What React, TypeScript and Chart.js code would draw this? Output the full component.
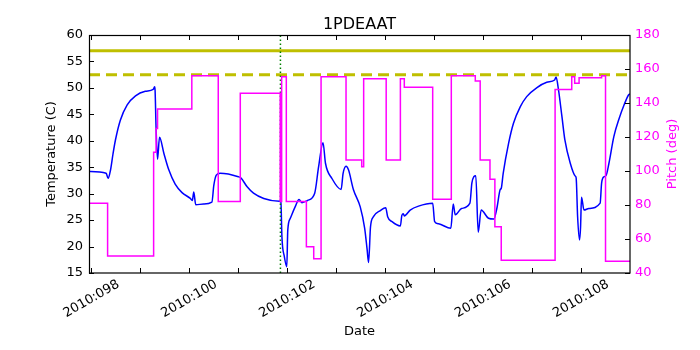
import React, { useEffect, useRef } from "react";
import { Chart, registerables } from "chart.js";

Chart.register(...registerables);

const TITLE = "1PDEAAT";
const X_TITLE = "Date";
const Y_TITLE = "Temperature (C)";
const Y2_TITLE = "Pitch (deg)";
const YEAR = "2010";

const X_MIN = 97.95;
const X_MAX = 109.0;
const X_TICK_DAYS = [98, 99, 100, 101, 102, 103, 104, 105, 106, 107, 108];
const X_LABEL_DAYS = [98, 100, 102, 104, 106, 108];

const TEMP_MIN = 15;
const TEMP_MAX = 60;
const TEMP_STEP = 5;
const PITCH_MIN = 40;
const PITCH_MAX = 180;
const PITCH_STEP = 20;

const PLANNING_LIMIT = 57;
const CAUTION_LIMIT = 52.5;
const NOW_DAY = 101.86;

const tempDays = [
  97.94, 98.3, 98.34, 98.39, 98.44, 98.49, 98.59, 98.73, 98.9, 99.1, 99.26, 99.29, 99.3, 99.32, 99.35,
  99.39, 99.48, 99.58, 99.71, 99.85, 100.02, 100.06, 100.09, 100.13, 100.29, 100.46, 100.5, 100.55,
  100.63, 101.0, 101.05, 101.18, 101.31, 101.52, 101.84, 101.87, 101.89, 101.94, 101.99, 102.01,
  102.06, 102.16, 102.24, 102.3, 102.41, 102.56, 102.64, 102.73, 102.78, 102.91, 103.1, 103.14,
  103.2, 103.25, 103.35, 103.49, 103.58, 103.63, 103.66, 103.7, 103.76, 103.9, 104.01, 104.05,
  104.14, 104.31, 104.34, 104.37, 104.39, 104.51, 104.68, 104.97, 105.01, 105.09, 105.34, 105.39,
  105.43, 105.56, 105.73, 105.77, 105.81, 105.85, 105.9, 105.96, 106.11, 106.22, 106.28, 106.35,
  106.37, 106.41, 106.52, 106.62, 106.76, 106.89, 107.1, 107.3, 107.46, 107.49, 107.54, 107.61,
  107.67, 107.78, 107.88, 107.9, 107.93, 107.97, 107.99, 108.01, 108.06, 108.16, 108.39, 108.42,
  108.47, 108.51, 108.57, 108.67, 108.78, 108.88, 108.97, 109.0,
];
const tempValues = [
  34.2, 33.85, 32.9, 34.5, 37.5, 40.15, 43.9, 46.8, 48.5, 49.35, 49.7, 50.2, 49.5, 42.4, 36.5,
  40.65, 37.6, 34.5, 31.8, 30.2, 29.1, 28.7, 30.3, 27.9, 28.05, 28.4, 31.6, 33.5,
  33.85, 33.2, 33.0, 31.3, 30.1, 29.1, 28.55, 28.4, 21.9, 18.1, 16.2, 23.1,
  25.3, 27.5, 28.9, 28.3, 28.7, 30.1, 35.1, 39.65, 35.75, 32.9, 30.8, 33.85,
  35.2, 34.5, 30.8, 27.5, 23.5, 19.5, 17.0, 23.75, 25.65, 26.8, 27.35, 25.65,
  24.7, 23.9, 25.9, 26.2, 25.8, 26.9, 27.65, 28.2, 24.7, 24.3, 23.45, 28.05,
  26.0, 27.2, 28.2, 32.0, 33.2, 33.4, 22.7, 26.9, 25.35, 25.2, 27.2, 30.8,
  31.0, 33.85, 39.5, 43.3, 46.45, 48.35, 50.05, 51.05, 51.5, 52.05, 49.6, 44.55,
  40.15, 35.75, 33.35, 33.0, 25.65, 21.25, 23.6, 29.3, 26.9, 27.2, 28.2, 32.0,
  33.2, 33.4, 35.75, 40.8, 44.25, 46.8, 48.65, 48.9,
];

const pitchChangeDays = [
  97.94, 98.33, 99.27, 99.32, 99.35, 100.05, 100.59, 101.04, 101.855, 101.885, 101.98, 102.39,
  102.54, 102.69, 103.2, 103.52, 103.56, 104.02, 104.31, 104.39, 104.97, 105.35, 105.84, 105.94,
  106.14, 106.24, 106.37, 107.47, 107.81, 107.87, 107.96, 108.42, 108.5,
];
const pitchValues = [
  81, 50, 111, 125, 136.5, 156, 82, 145.7, 82, 155.5, 82, 55.5,
  48.4, 155.5, 106.5, 102.5, 154.3, 106.5, 154.3, 149.2, 83.4, 156, 153, 106.5,
  95.1, 67.2, 47.5, 148, 155.5, 151.6, 154.9, 156.1, 46.9,
];
const PITCH_END_DAY = 109.0;

function buildTemp() {
  return tempDays.map((d, i) => ({ x: d, y: tempValues[i] }));
}

function buildPitch() {
  const pts: { x: number; y: number }[] = [];
  pitchChangeDays.forEach((d, i) => {
    if (i > 0) pts.push({ x: d, y: pitchValues[i - 1] });
    pts.push({ x: d, y: pitchValues[i] });
  });
  pts.push({ x: PITCH_END_DAY, y: pitchValues[pitchValues.length - 1] });
  return pts;
}

const FONT = '"DejaVu Sans", "Liberation Sans", sans-serif';
const MAGENTA = "#ff00ff";

const mplDecor = {
  id: "mplDecor",
  afterDraw(chart: any) {
    const { ctx, chartArea } = chart;
    const { left, right, top, bottom } = chartArea;
    const xs = chart.scales.x;
    const ys = chart.scales.y;
    const y2 = chart.scales.y2;
    const tl = 5;
    ctx.save();
    ctx.strokeStyle = "#000";
    ctx.lineWidth = 1;
    // ticks
    ctx.beginPath();
    X_TICK_DAYS.forEach((d) => {
      const px = Math.round(xs.getPixelForValue(d)) + 0.5;
      ctx.moveTo(px, bottom);
      ctx.lineTo(px, bottom - tl);
      ctx.moveTo(px, top);
      ctx.lineTo(px, top + tl);
    });
    ys.ticks.forEach((t: any) => {
      const py = Math.round(ys.getPixelForValue(t.value)) + 0.5;
      ctx.moveTo(left, py);
      ctx.lineTo(left + tl, py);
    });
    y2.ticks.forEach((t: any) => {
      const py = Math.round(y2.getPixelForValue(t.value)) + 0.5;
      ctx.moveTo(right, py);
      ctx.lineTo(right - tl, py);
    });
    ctx.stroke();
    // frame
    ctx.lineWidth = 1.2;
    ctx.strokeRect(left + 0.5, top + 0.5, right - left - 0.5, bottom - top - 0.5);

    // title
    ctx.fillStyle = "#000";
    ctx.textAlign = "center";
    ctx.textBaseline = "alphabetic";
    ctx.font = `16px ${FONT}`;
    ctx.fillText(TITLE, (left + right) / 2, 29);

    // x tick labels (rotated 30deg, centred on tick)
    ctx.font = `13px ${FONT}`;
    X_LABEL_DAYS.forEach((d) => {
      const px = xs.getPixelForValue(d);
      ctx.save();
      ctx.translate(px, bottom + 26);
      ctx.rotate(-Math.PI / 6);
      ctx.textAlign = "center";
      ctx.textBaseline = "middle";
      ctx.fillText(`${YEAR}:${String(d).padStart(3, "0")}`, 0, 0);
      ctx.restore();
    });

    // x title
    ctx.textAlign = "center";
    ctx.textBaseline = "alphabetic";
    ctx.fillText(X_TITLE, (left + right) / 2, bottom + 61.5);

    // y titles
    const mid = (top + bottom) / 2;
    ctx.save();
    ctx.translate(55, mid);
    ctx.rotate(-Math.PI / 2);
    ctx.fillText(Y_TITLE, 0, 0);
    ctx.restore();

    ctx.save();
    ctx.fillStyle = MAGENTA;
    ctx.translate(676, mid);
    ctx.rotate(-Math.PI / 2);
    ctx.fillText(Y2_TITLE, 0, 0);
    ctx.restore();

    ctx.restore();
  },
};

export default function App() {
  const ref = useRef<HTMLCanvasElement>(null);

  useEffect(() => {
    document.body.style.margin = "0";
    const canvas = ref.current;
    if (!canvas) return;
    const chart = new Chart(canvas, {
      type: "line",
      data: {
        datasets: [
          {
            label: "Pitch",
            data: buildPitch(),
            yAxisID: "y2",
            borderColor: MAGENTA,
            borderWidth: 1.5,
            pointRadius: 0,
            tension: 0,
            order: 0,
          },
          {
            label: "Now",
            data: [
              { x: NOW_DAY, y: TEMP_MIN },
              { x: NOW_DAY, y: TEMP_MAX },
            ],
            yAxisID: "y",
            borderColor: "#008000",
            borderWidth: 1.5,
            borderDash: [1.5, 2.5],
            pointRadius: 0,
            order: 1,
          },
          {
            label: "Planning limit",
            data: [
              { x: X_MIN, y: PLANNING_LIMIT },
              { x: X_MAX, y: PLANNING_LIMIT },
            ],
            yAxisID: "y",
            borderColor: "#bfbf00",
            borderWidth: 3,
            pointRadius: 0,
            order: 2,
          },
          {
            label: "Caution limit",
            data: [
              { x: X_MIN, y: CAUTION_LIMIT },
              { x: X_MAX, y: CAUTION_LIMIT },
            ],
            yAxisID: "y",
            borderColor: "#bfbf00",
            borderWidth: 3,
            borderDash: [11, 6],
            pointRadius: 0,
            order: 2,
          },
          {
            label: "Temperature",
            data: buildTemp(),
            yAxisID: "y",
            borderColor: "#0000ff",
            borderWidth: 1.5,
            pointRadius: 0,
            cubicInterpolationMode: "monotone",
            order: 3,
          },
        ],
      },
      options: {
        responsive: false,
        animation: false,
        events: [],
        layout: { padding: { top: 35, left: 0, right: 0, bottom: 0 } },
        plugins: {
          legend: { display: false },
          tooltip: { enabled: false },
          title: { display: false },
        },
        scales: {
          x: {
            type: "linear",
            min: X_MIN,
            max: X_MAX,
            grid: { display: false, drawTicks: false },
            border: { display: false },
            ticks: { display: false, stepSize: 1 },
            afterFit: (s: any) => {
              s.height = 77;
            },
          },
          y: {
            type: "linear",
            position: "left",
            min: TEMP_MIN,
            max: TEMP_MAX,
            grid: { display: false, drawTicks: false, tickLength: 0 },
            border: { display: false },
            ticks: {
              stepSize: TEMP_STEP,
              padding: 6,
              color: "#000",
              font: { family: FONT, size: 13 },
            },
            afterFit: (s: any) => {
              s.width = 89;
            },
          },
          y2: {
            type: "linear",
            position: "right",
            min: PITCH_MIN,
            max: PITCH_MAX,
            grid: { display: false, drawTicks: false, tickLength: 0 },
            border: { display: false },
            ticks: {
              stepSize: PITCH_STEP,
              padding: 5,
              color: MAGENTA,
              font: { family: FONT, size: 13 },
            },
            afterFit: (s: any) => {
              s.width = 70;
            },
          },
        },
      },
      plugins: [mplDecor],
    });
    return () => chart.destroy();
  }, []);

  return (
    <div style={{ position: "fixed", left: 0, top: 0, width: 700, height: 350, background: "#fff" }}>
      <canvas ref={ref} width={700} height={350} />
    </div>
  );
}
